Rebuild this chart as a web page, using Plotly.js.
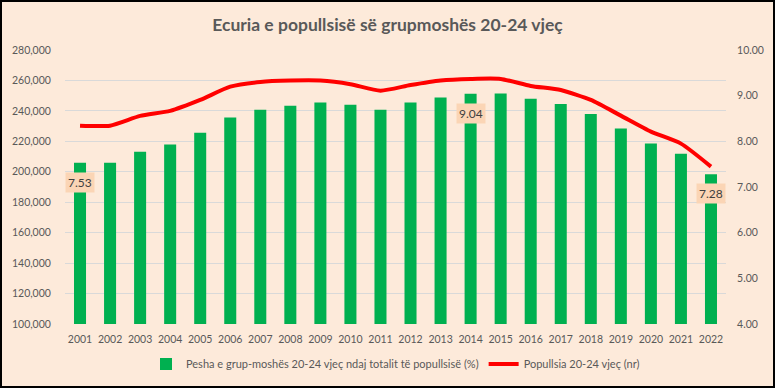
<!DOCTYPE html>
<html>
<head>
<meta charset="utf-8">
<script src="https://cdn.plot.ly/plotly-3.0.1.min.js"></script>
<style>
  html, body { margin: 0; padding: 0; background: #FDEADA; }
  #wrap { position: relative; width: 775px; height: 388px; }
  #chart { width: 775px; height: 388px; }
  #frame { position: absolute; left: 0; top: 0; width: 775px; height: 388px; box-sizing: border-box; border: 2px solid #000; pointer-events: none; }
</style>
</head>
<body>
<div id="wrap"><div id="chart"></div><div id="frame"></div></div>
<script>
const years = [2001, 2002, 2003, 2004, 2005, 2006, 2007, 2008, 2009, 2010, 2011,
               2012, 2013, 2014, 2015, 2016, 2017, 2018, 2019, 2020, 2021, 2022];
const sharePct = [7.53, 7.53, 7.77, 7.93, 8.19, 8.52, 8.69, 8.78, 8.85, 8.80, 8.69,
                  8.85, 8.96, 9.04, 9.05, 8.93, 8.82, 8.60, 8.28, 7.95, 7.73, 7.28];
const population = [230300, 230300, 236700, 240000, 247200, 255900, 259000, 259900, 259900, 257500, 253300,
                    257000, 260000, 261000, 261000, 256400, 253700, 247200, 236900, 226400, 218500, 203400];
const labelYears = [2001, 2014, 2022];
const shareName = 'Pesha e grup-moshës 20-24 vjeç ndaj totalit të popullsisë (%)';
const popName = 'Popullsia 20-24 vjeç (nr)';
const leftTicks = [100000,120000,140000,160000,180000,200000,220000,240000,260000,280000];
const rightTicks = [4,5,6,7,8,9,10];

const FONT = 'Lato, "Open Sans", sans-serif';
const TXT = '#595959';
const TICKFONT = { family: FONT, size: 10.5, color: TXT };
const NOTICK = 'rgba(0,0,0,0)';

const bars = {
  type: 'bar', x: years, y: sharePct, name: shareName, yaxis: 'y',
  marker: { color: '#00B050' }, width: 0.4
};
const line = {
  type: 'scatter', mode: 'lines', x: years, y: population, name: popName, yaxis: 'y2',
  line: { color: '#FF0000', width: 4, shape: 'spline', smoothing: 0.6 }
};

const annotations = labelYears.map(yr => {
  const i = years.indexOf(yr);
  return {
    x: yr, y: sharePct[i], xref: 'x', yref: 'y',
    text: sharePct[i].toFixed(2), showarrow: false, yanchor: 'top', yshift: -9,
    font: { family: FONT, size: 12, color: '#404040' },
    bgcolor: '#FBD5B5', borderpad: 2
  };
});

const layout = {
  width: 775, height: 388,
  paper_bgcolor: '#FDEADA', plot_bgcolor: '#FDEADA',
  margin: { l: 65, r: 49, t: 50, b: 64, autoexpand: false },
  title: { text: '<b>Ecuria e popullsisë së grupmoshës 20-24 vjeç</b>', x: 0.5, xanchor: 'center',
           yref: 'container', y: 0.935, yanchor: 'middle',
           font: { family: FONT, size: 17.5, color: TXT } },
  font: { family: FONT, size: 11, color: TXT },
  showlegend: true,
  legend: { orientation: 'h', x: 0.5, xanchor: 'center', yref: 'container', y: 0.062, yanchor: 'middle',
            font: { family: FONT, size: 11, color: TXT }, bgcolor: 'rgba(0,0,0,0)', traceorder: 'normal', itemwidth: 30 },
  xaxis: { type: 'linear', range: [2000.5, 2022.5], tickmode: 'array', tickvals: years, tickformat: 'd',
           showgrid: false, zeroline: false, showline: false,
           ticks: 'outside', ticklen: 5, tickcolor: NOTICK, tickfont: TICKFONT },
  yaxis: { side: 'right', range: [4, 10], tickmode: 'array', tickvals: rightTicks, tickformat: '.2f',
           showgrid: false, zeroline: false, showline: false,
           ticks: 'outside', ticklen: 8, tickcolor: NOTICK, tickfont: TICKFONT },
  yaxis2: { side: 'left', overlaying: 'y', range: [100000, 280000], tickmode: 'array', tickvals: leftTicks, tickformat: ',d',
            showgrid: true, gridcolor: '#D9D9D9', gridwidth: 1, zeroline: false, showline: false,
            ticks: 'outside', ticklen: 11, tickcolor: NOTICK, tickfont: TICKFONT },
  annotations: annotations
};

Plotly.newPlot('chart', [bars, line], layout, { displayModeBar: false, staticPlot: true });
</script>
</body>
</html>
